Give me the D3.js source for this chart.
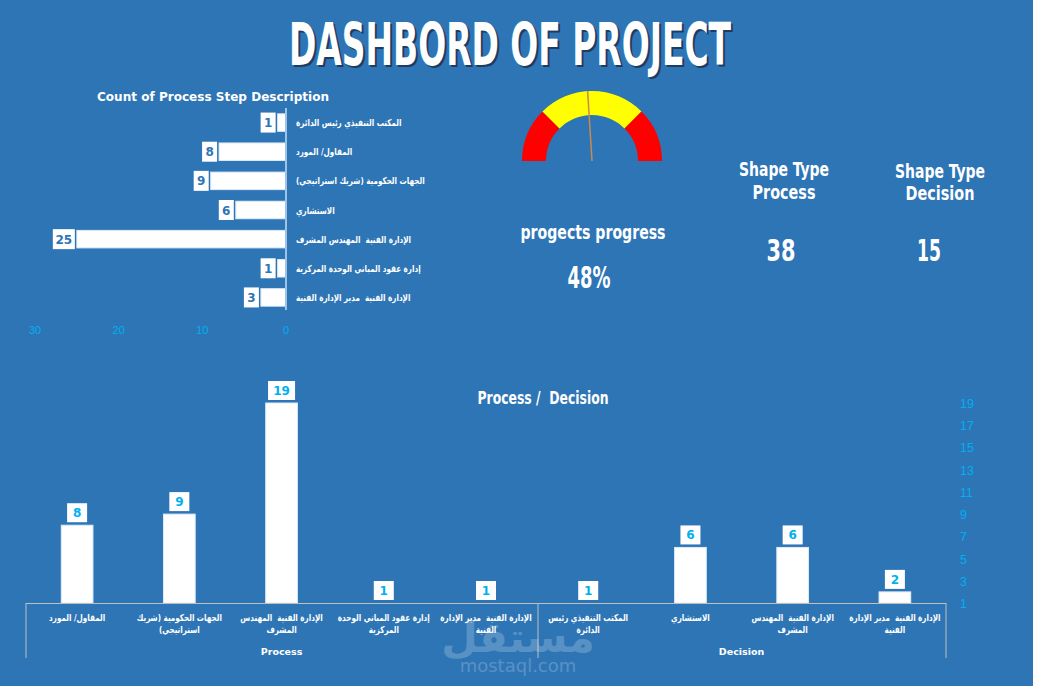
<!DOCTYPE html>
<html><head><meta charset="utf-8">
<script src="https://cdn.jsdelivr.net/npm/d3@7"></script>
<style>
html,body{margin:0;padding:0;background:#fff;}
svg{display:block;}
</style></head>
<body>
<svg id="c" width="1037" height="690"></svg>
<script>
// ---------- data ----------
const hCategories = ["المكتب التنفيذي رئيس الدائرة","المقاول/ المورد","الجهات الحكومية (شريك استراتيجي)","الاستشاري","الإدارة الفنية  المهندس المشرف","إدارة عقود المباني الوحدة المركزية","الإدارة الفنية  مدير الإدارة الفنية"];
const hValues = [1, 8, 9, 6, 25, 1, 3];
const hTicks = [30, 20, 10, 0];

const vCategories = [
  ["المقاول/ المورد"],
  ["الجهات الحكومية (شريك","استراتيجي)"],
  ["الإدارة الفنية  المهندس","المشرف"],
  ["إدارة عقود المباني الوحدة","المركزية"],
  ["الإدارة الفنية  مدير الإدارة","الفنية"],
  ["المكتب التنفيذي رئيس","الدائرة"],
  ["الاستشاري"],
  ["الإدارة الفنية  المهندس","المشرف"],
  ["الإدارة الفنية  مدير الإدارة","الفنية"]
];
const vGroups = ["Process","Process","Process","Process","Process","Decision","Decision","Decision","Decision"];
const vValues = [8, 9, 19, 1, 1, 1, 6, 6, 2];
const vTicks = [1,3,5,7,9,11,13,15,17,19];

const progress = 0.48;
const gaugeBands = [0.25, 0.5, 0.25];
const gaugeColors = ["#FF0000", "#FFFF00", "#FF0000"];
const processCount = 38;
const decisionCount = 15;

// ---------- setup ----------
const svg = d3.select("#c");
const BG = "#2E75B6", CYAN = "#00B0F0";
const heavy = "'DejaVu Sans Condensed', 'DejaVu Sans', sans-serif";
const arab = "'DejaVu Sans', sans-serif";
const ARSCALE = 0.76;
svg.append("rect").attr("width",1033).attr("height",686).attr("fill",BG);

function heavyText(x, y, txt, size, len, anchor="middle", shadow=false){
  const g = svg.append("g");
  if (shadow){
    g.append("text").attr("x",x+2).attr("y",y+2).attr("text-anchor",anchor)
      .attr("font-family",heavy).attr("font-weight","bold").attr("font-size",size)
      .attr("fill","#1b2f4a").attr("opacity",0.8).attr("xml:space","preserve")
      .attr("textLength",len).attr("lengthAdjust","spacingAndGlyphs").text(txt);
  }
  g.append("text").attr("x",x).attr("y",y).attr("text-anchor",anchor)
    .attr("font-family",heavy).attr("font-weight","bold").attr("font-size",size)
    .attr("fill","#fff").attr("xml:space","preserve")
    .attr("textLength",len).attr("lengthAdjust","spacingAndGlyphs").text(txt);
}

function arabText(parent, x, y, txt, size, anchor){
  parent.append("text")
    .attr("transform",`translate(${x},${y}) scale(${ARSCALE},1)`)
    .attr("text-anchor",anchor).attr("direction","rtl")
    .attr("fill","#fff").attr("font-family",arab).attr("font-weight","bold").attr("font-size",size)
    .attr("xml:space","preserve")
    .text(txt);
}

// title
heavyText(510, 65, "DASHBORD OF PROJECT", 58, 442, "middle", true);

// ---------- horizontal bar chart ----------
svg.append("text").attr("x",97).attr("y",101).attr("fill","#fff")
  .attr("font-family","'DejaVu Sans', sans-serif").attr("font-weight","bold").attr("font-size",12.5)
  .attr("textLength",232).attr("lengthAdjust","spacingAndGlyphs")
  .text("Count of Process Step Description");

const hx = d3.scaleLinear().domain([0,30]).range([286,35]);
const hy = d3.scaleBand().domain(hCategories).range([108,312]).paddingInner(0.4).paddingOuter(0.2);

const hg = svg.append("g");
hg.selectAll("rect.bar").data(hValues).join("rect").attr("class","bar")
  .attr("x",(d)=>hx(d)).attr("y",(d,i)=>hy(hCategories[i]))
  .attr("width",(d)=>hx(0)-hx(d)).attr("height",hy.bandwidth())
  .attr("fill","#fff").attr("stroke","#DDEBF7").attr("stroke-width",1);

// axis line
svg.append("line").attr("x1",286).attr("x2",286).attr("y1",108).attr("y2",310)
  .attr("stroke","#9DC3E6").attr("stroke-width",2);

// labels (right of axis)
hCategories.forEach(c=>{
  arabText(hg, 296, hy(c)+hy.bandwidth()/2+3.5, c, 9.5, "end");
});

// data label boxes
hValues.forEach((d,i)=>{
  const w = String(d).length>1 ? 22 : 15;
  const xr = hx(d) - 2;
  const cy = hy(hCategories[i]) + hy.bandwidth()/2;
  hg.append("rect").attr("x",xr-w).attr("y",cy-10).attr("width",w).attr("height",20).attr("fill","#fff");
  hg.append("text").attr("x",xr-w/2).attr("y",cy+4.5).attr("text-anchor","middle")
    .attr("fill",BG).attr("font-family","'DejaVu Sans', sans-serif").attr("font-weight","bold").attr("font-size",12)
    .text(d);
});

// x tick labels
svg.append("g").selectAll("text").data(hTicks).join("text")
  .attr("x",d=>hx(d)).attr("y",334).attr("text-anchor","middle")
  .attr("fill",CYAN).attr("font-family","'Liberation Sans', Arial, sans-serif").attr("font-size",11)
  .text(d=>d);

// ---------- gauge ----------
const gc = {x:592, y:161}, rO = 70, rI = 46;
const arc = d3.arc().innerRadius(rI).outerRadius(rO);
let acc = 0;
const gg = svg.append("g").attr("transform",`translate(${gc.x},${gc.y})`);
gaugeBands.forEach((b,i)=>{
  const a0 = -Math.PI/2 + acc*Math.PI, a1 = -Math.PI/2 + (acc+b)*Math.PI;
  acc += b;
  gg.append("path").attr("d",arc({startAngle:a0,endAngle:a1})).attr("fill",gaugeColors[i]);
});
const na = Math.PI - progress*Math.PI; // angle from +x axis
gg.append("line").attr("x1",0).attr("y1",0)
  .attr("x2",Math.cos(na)*rO).attr("y2",-Math.sin(na)*rO)
  .attr("stroke","#C98A4B").attr("stroke-width",1.5);

heavyText(593, 239, "progects progress", 19, 145);
heavyText(589, 288, d3.format(".0%")(progress), 31, 43);

// KPIs
heavyText(784, 176, "Shape Type", 19, 90);
heavyText(784, 199, "Process", 19, 63);
heavyText(940, 178, "Shape Type", 19, 90);
heavyText(940, 200, "Decision", 19, 69);
heavyText(781, 261, String(processCount), 31, 29);
heavyText(929, 261, String(decisionCount), 31, 24);

// ---------- vertical bar chart ----------
heavyText(543, 404, "Process /  Decision", 18, 131);

const vx = d3.scaleBand().domain(d3.range(vValues.length)).range([26,946]).paddingInner(0.69).paddingOuter(0.345);
const vy = d3.scaleLinear().domain([1,19]).range([603,403]);
const vg = svg.append("g");

vg.selectAll("rect.bar").data(vValues).join("rect").attr("class","bar")
  .attr("x",(d,i)=>vx(i)).attr("y",d=>vy(d))
  .attr("width",vx.bandwidth()).attr("height",d=>vy(1)-vy(d))
  .attr("fill","#fff").attr("stroke","#DDEBF7").attr("stroke-width",1);

vValues.forEach((d,i)=>{
  const w = String(d).length>1 ? 27 : 20;
  const cx = vx(i)+vx.bandwidth()/2;
  const yb = vy(d) - 3;
  vg.append("rect").attr("x",cx-w/2).attr("y",yb-19).attr("width",w).attr("height",19).attr("fill","#fff");
  vg.append("text").attr("x",cx).attr("y",yb-5).attr("text-anchor","middle")
    .attr("fill",CYAN).attr("font-family","'DejaVu Sans', sans-serif").attr("font-weight","bold").attr("font-size",12)
    .text(d);
});

// baseline & group separators
svg.append("line").attr("x1",26).attr("x2",946).attr("y1",603.5).attr("y2",603.5).attr("stroke","#BFBFBF").attr("stroke-width",1.2);
[26, 538, 946].forEach(x=>{
  svg.append("line").attr("x1",x).attr("x2",x).attr("y1",603).attr("y2",658).attr("stroke","#BFBFBF").attr("stroke-width",1);
});

// category labels
vCategories.forEach((lines,i)=>{
  const cx = vx(i)+vx.bandwidth()/2;
  lines.forEach((l,j)=>{
    arabText(vg, cx, 621+j*12, l, 9.5, "middle");
  });
});

// group labels
const groups = Array.from(new Set(vGroups));
groups.forEach(g=>{
  const idx = vGroups.map((v,i)=>v===g?i:-1).filter(i=>i>=0);
  const x0 = vx(idx[0]) - vx.step()*vx.paddingInner()/2;
  const x1 = vx(idx[idx.length-1]) + vx.bandwidth() + vx.step()*vx.paddingInner()/2;
  svg.append("text").attr("x",(x0+x1)/2).attr("y",655).attr("text-anchor","middle")
    .attr("fill","#fff").attr("font-family","'DejaVu Sans', sans-serif").attr("font-weight","bold").attr("font-size",9.5)
    .text(g);
});

// right axis tick labels
svg.append("g").selectAll("text").data(vTicks).join("text")
  .attr("x",960).attr("y",d=>vy(d)+5)
  .attr("fill",CYAN).attr("font-family","'Liberation Sans', Arial, sans-serif").attr("font-size",12.5)
  .text(d=>d);

// watermark
svg.append("text").attr("x",518).attr("y",652).attr("text-anchor","middle").attr("direction","rtl")
  .attr("fill","#fff").attr("opacity",0.2).attr("font-family",arab).attr("font-weight","bold").attr("font-size",42)
  .text("مستقل");
svg.append("text").attr("x",518).attr("y",672).attr("text-anchor","middle")
  .attr("fill","#fff").attr("opacity",0.2).attr("font-family","'DejaVu Sans', sans-serif").attr("font-size",18)
  .text("mostaql.com");
</script>
</body></html>
